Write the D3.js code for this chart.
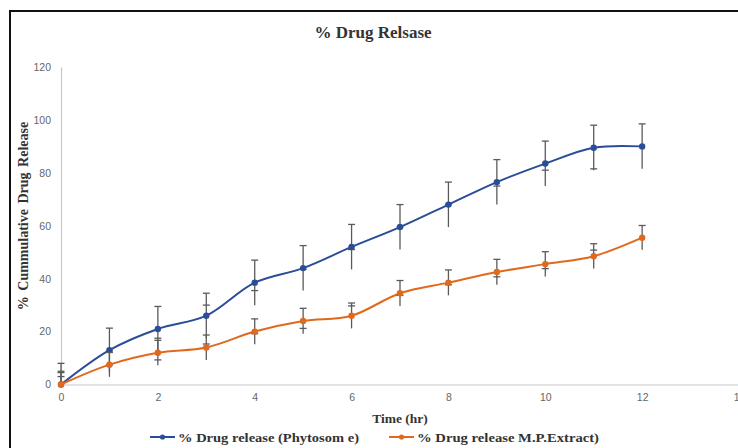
<!DOCTYPE html>
<html>
<head>
<meta charset="utf-8">
<script src="https://cdn.jsdelivr.net/npm/d3@7"></script>
<style>
  body { margin: 0; background: #fff; }
  svg { display: block; }
</style>
</head>
<body>
<svg id="chart" width="738" height="448"></svg>
<script>
// time points (hr)
const hours = [0, 1, 2, 3, 4, 5, 6, 7, 8, 9, 10, 11, 12];
// % drug release, phytosome
const phytosome = [0, 13, 21, 26, 38.5, 44, 52, 59.5, 68, 76.5, 83.5, 89.5, 90];
const phytosomeErr = [8, 8.3, 8.5, 8.5, 8.5, 8.5, 8.5, 8.5, 8.5, 8.5, 8.5, 8.5, 8.5];
// % drug release, M.P. extract
const extract = [0, 7.5, 12, 14, 20, 24, 26, 34.5, 38.5, 42.5, 45.5, 48.5, 55.5];
const extractErr = [4.5, 4.6, 4.7, 4.7, 4.8, 4.8, 4.8, 4.8, 4.8, 4.8, 4.7, 4.7, 4.6];
const xTicks = [0, 2, 4, 6, 8, 10, 12, 14];
const yTicks = [0, 20, 40, 60, 80, 100, 120];

const svg = d3.select('#chart');
const serif = '"Liberation Serif", "Times New Roman", serif';

// frame
svg.append('rect')
  .attr('x', 10).attr('y', 11)
  .attr('width', 740).attr('height', 450)
  .attr('fill', 'none').attr('stroke', '#111').attr('stroke-width', 2);

const x = d3.scaleLinear().domain([0, 14]).range([61, 739]);
const y = d3.scaleLinear().domain([0, 120]).range([384.5, 67]);

// axes
const xAxis = svg.append('g')
  .attr('transform', `translate(0,${y(0)})`)
  .call(d3.axisBottom(x).tickValues(xTicks).tickSize(0).tickPadding(9));
const yAxis = svg.append('g')
  .attr('transform', `translate(${x(0)},0)`)
  .call(d3.axisLeft(y).tickValues(yTicks).tickSize(0).tickPadding(10));
[xAxis, yAxis].forEach(a => {
  a.select('.domain').attr('stroke', '#c8c8c8').attr('stroke-width', 1.2);
  a.selectAll('text')
    .attr('fill', '#666')
    .style('font-family', '"Liberation Sans", Arial, sans-serif')
    .style('font-size', '10.5px');
});

// titles
svg.append('text')
  .attr('x', 373).attr('y', 38)
  .attr('text-anchor', 'middle')
  .style('font-family', serif).style('font-weight', 'bold').style('font-size', '17px')
  .attr('fill', '#333')
  .text('% Drug Relsase');

svg.append('text')
  .attr('transform', 'translate(28,216) rotate(-90)')
  .attr('text-anchor', 'middle')
  .style('font-family', serif).style('font-weight', 'bold').style('font-size', '14px')
  .style('word-spacing', '2px')
  .attr('fill', '#333')
  .text('% Cummulative Drug Release');

svg.append('text')
  .attr('x', 400).attr('y', 423)
  .attr('text-anchor', 'middle')
  .style('font-family', serif).style('font-weight', 'bold').style('font-size', '13.5px')
  .attr('fill', '#333')
  .text('Time (hr)');

const series = [
  { name: '% Drug release (Phytosom e)', values: phytosome, err: phytosomeErr, color: '#2b4d98', lx: 150, tw: 181 },
  { name: '% Drug release M.P.Extract)', values: extract, err: extractErr, color: '#e0691d', lx: 389, tw: 182 }
];

const line = d3.line()
  .x((d, i) => x(hours[i]))
  .y(d => y(d))
  .curve(d3.curveCatmullRom.alpha(0.5));

series.forEach(s => {
  const g = svg.append('g');
  g.append('path')
    .datum(s.values)
    .attr('d', line)
    .attr('fill', 'none')
    .attr('stroke', s.color)
    .attr('stroke-width', 2);

  const eb = g.selectAll('.eb').data(s.values).enter().append('g');
  eb.append('line')
    .attr('x1', (d, i) => x(hours[i])).attr('x2', (d, i) => x(hours[i]))
    .attr('y1', (d, i) => y(d + s.err[i])).attr('y2', (d, i) => y(Math.max(0, d - s.err[i])))
    .attr('stroke', '#5a5a5a').attr('stroke-width', 1.3);
  eb.append('line')
    .attr('x1', (d, i) => x(hours[i]) - 3.5).attr('x2', (d, i) => x(hours[i]) + 3.5)
    .attr('y1', (d, i) => y(d + s.err[i])).attr('y2', (d, i) => y(d + s.err[i]))
    .attr('stroke', '#5a5a5a').attr('stroke-width', 1.3);
  eb.filter((d, i) => d - s.err[i] > 0).append('line')
    .attr('x1', (d, i) => x(hours[i]) - 3.5).attr('x2', (d, i) => x(hours[i]) + 3.5)
    .attr('y1', (d, i) => y(d - s.err[i])).attr('y2', (d, i) => y(d - s.err[i]))
    .attr('stroke', '#5a5a5a').attr('stroke-width', 1.3);

  g.selectAll('circle').data(s.values).enter().append('circle')
    .attr('cx', (d, i) => x(hours[i]))
    .attr('cy', d => y(d))
    .attr('r', 3.2)
    .attr('fill', s.color);

  // legend entry
  const ly = 437;
  svg.append('line')
    .attr('x1', s.lx).attr('x2', s.lx + 25)
    .attr('y1', ly).attr('y2', ly)
    .attr('stroke', s.color).attr('stroke-width', 2);
  svg.append('circle')
    .attr('cx', s.lx + 12.5).attr('cy', ly).attr('r', 2.6).attr('fill', s.color);
  svg.append('text')
    .attr('x', s.lx + 28).attr('y', ly + 4.5)
    .attr('textLength', s.tw).attr('lengthAdjust', 'spacingAndGlyphs')
    .style('font-family', serif).style('font-weight', 'bold').style('font-size', '13.5px')
    .attr('fill', '#333')
    .text(s.name);
});
</script>
</body>
</html>
